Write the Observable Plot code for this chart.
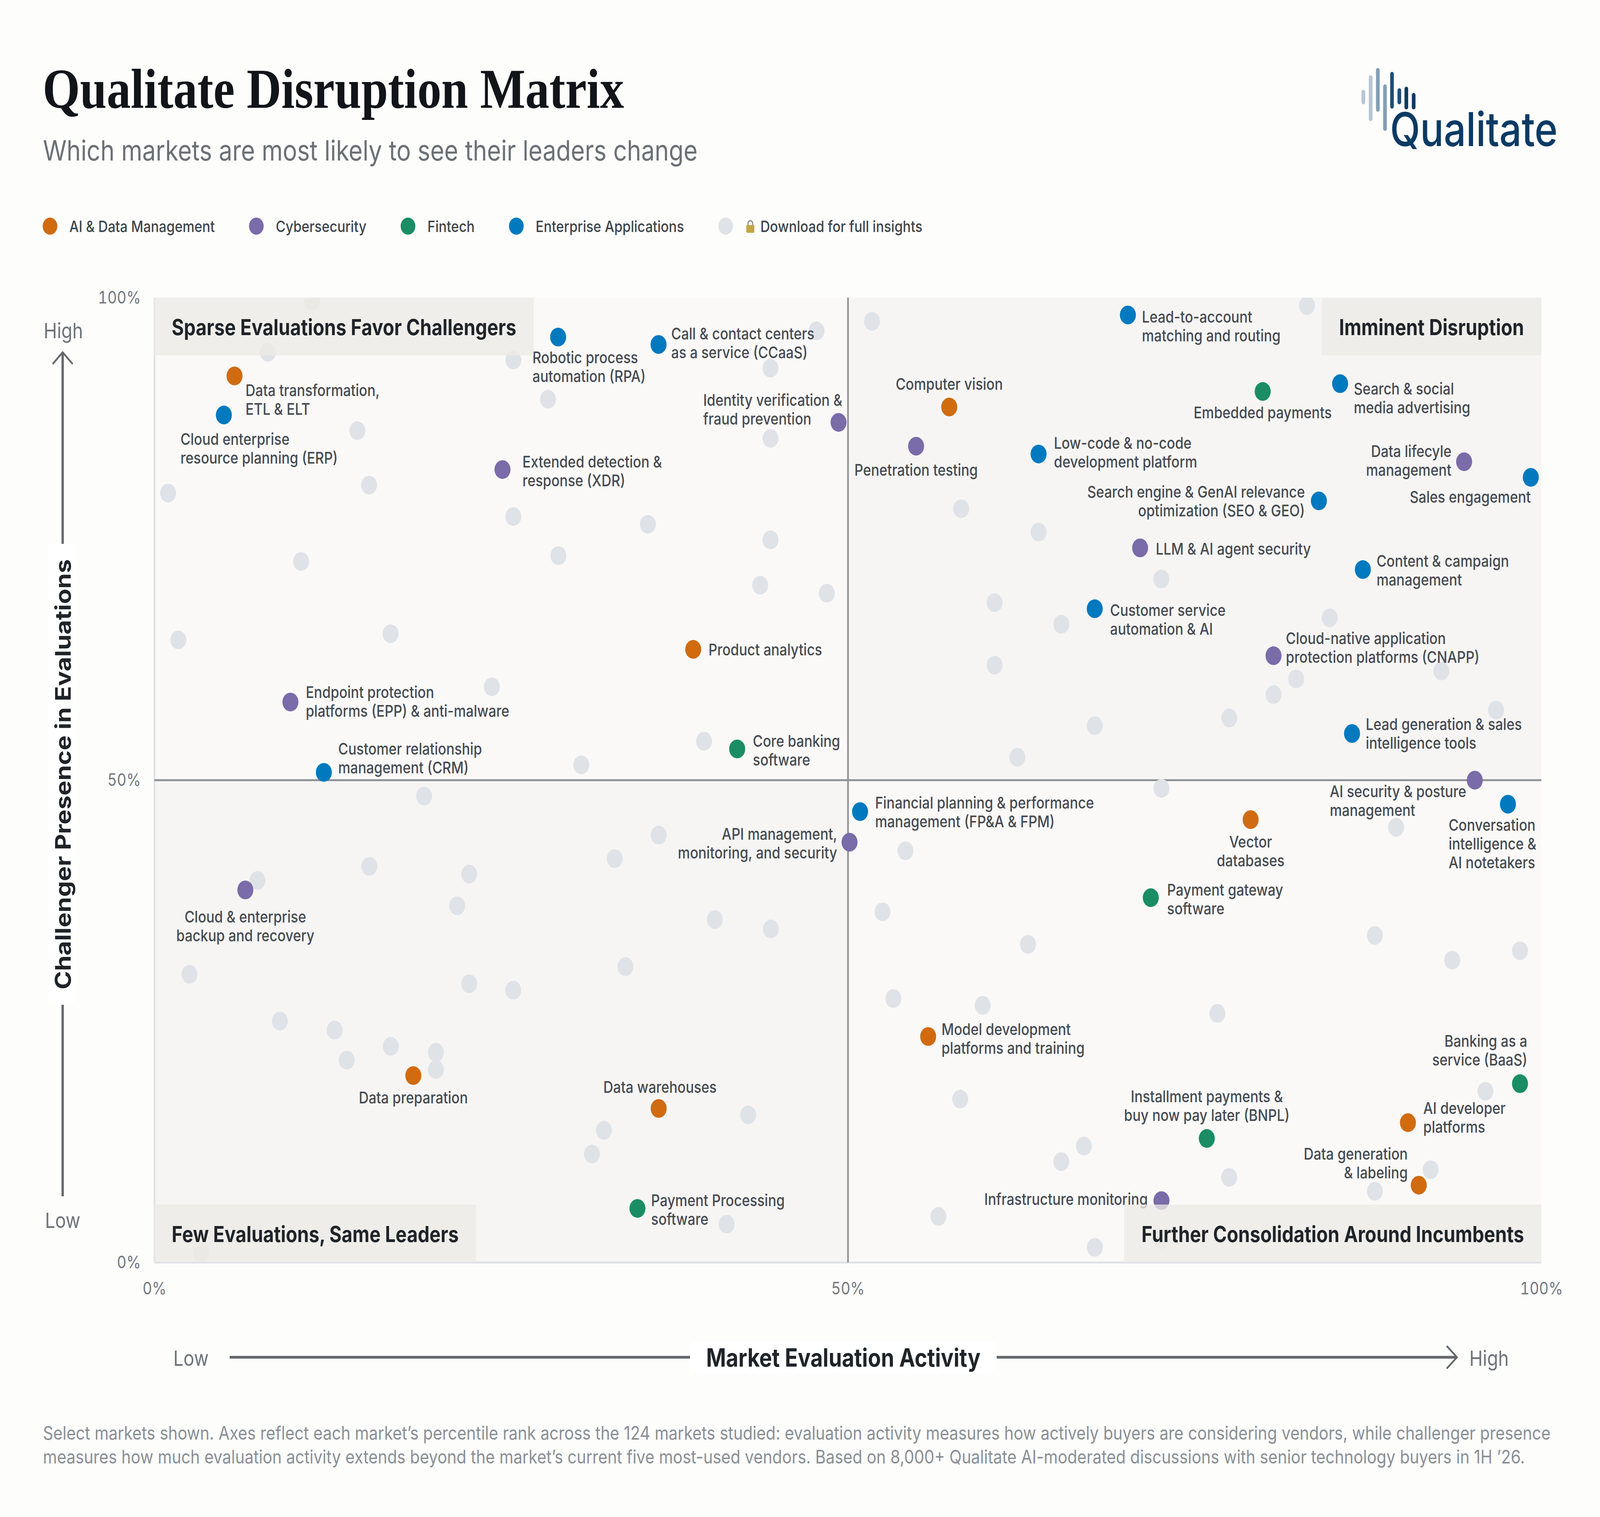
<!DOCTYPE html>
<html>
<head>
<meta charset="utf-8">
<script src="https://cdn.jsdelivr.net/npm/d3@7"></script>
<script src="https://cdn.jsdelivr.net/npm/@observablehq/plot@0.6"></script>
<style>
  html, body { margin: 0; padding: 0; background: #FDFDFC; overflow: hidden; }
  body { font-family: Inter, "Noto Sans", sans-serif; }
  #wrap { position: relative; overflow: hidden; width: 4800px; height: 3884px; }
  #page { position: absolute; left: 0; top: 0; width: 4800px; height: 3884px; transform-origin: 0 0; background: #FDFDFC; }
  #title { position: absolute; left: 128px; top: 156px; font-family: "Liberation Serif", serif; font-weight: 700; font-size: 144px; line-height: 144px; color: #111418; white-space: nowrap; }
  #subtitle { position: absolute; left: 129px; top: 349px; font-size: 72px; line-height: 72px; color: #6B7075; white-space: nowrap; }
  #logo { position: absolute; left: 4050px; top: 150px; }
  #legend { position: absolute; left: 128px; top: 549px; height: 60px; display: flex; align-items: center; gap: 103px; font-size: 40px; font-weight: 500; color: #3F454B; white-space: nowrap; }
  .item { display: flex; align-items: center; }
  .sw { width: 44px; height: 44px; border-radius: 50%; margin-right: 36px; }
  #chart { position: absolute; left: 0; top: 680px; }
  #footer { position: absolute; left: 129px; top: 3638px; font-size: 48px; line-height: 61px; color: #8A8F94; white-space: nowrap; }
</style>
</head>
<body>
<div id="wrap">
<div id="page">
<div id="title">Qualitate Disruption Matrix</div>
<div id="subtitle">Which markets are most likely to see their leaders change</div>
<svg id="logo" width="700" height="300"></svg>
<div id="legend"></div>
<div id="chart"></div>
<div id="footer">Select markets shown. Axes reflect each market’s percentile rank across the 124 markets studied: evaluation activity measures how actively buyers are considering vendors, while challenger presence<br>measures how much evaluation activity extends beyond the market’s current five most-used vendors. Based on 8,000+ Qualitate AI-moderated discussions with senior technology buyers in 1H ’26.</div>
</div>
</div>
<script>
// fit the 4800x3884 design to the browser window (the window may be narrower than asked)
(function () {
  const vw = window.innerWidth || 4800, vh = window.innerHeight || 3884;
  const sx = vw / 4800, sy = vh / 3884;
  document.getElementById("page").style.transform = `scale(${sx}, ${sy})`;
  const w = document.getElementById("wrap");
  w.style.width = (4800 * sx) + "px";
  w.style.height = (3884 * sy) + "px";
})();

// ---------------- DATA ----------------
const categories = ["AI & Data Management", "Cybersecurity", "Fintech", "Enterprise Applications"];
const lockedLabel = "Download for full insights";
const axisTicks = [0, 50, 100];

const marketNames = [
  "Data transformation,\nETL & ELT",
  "Product analytics",
  "Computer vision",
  "Vector\ndatabases",
  "Model development\nplatforms and training",
  "Data preparation",
  "Data warehouses",
  "AI developer\nplatforms",
  "Data generation\n& labeling",
  "Identity verification &\nfraud prevention",
  "Extended detection &\nresponse (XDR)",
  "Penetration testing",
  "LLM & AI agent security",
  "Cloud-native application\nprotection platforms (CNAPP)",
  "Data lifecyle\nmanagement",
  "Endpoint protection\nplatforms (EPP) & anti-malware",
  "Cloud & enterprise\nbackup and recovery",
  "API management,\nmonitoring, and security",
  "AI security & posture\nmanagement",
  "Infrastructure monitoring",
  "Embedded payments",
  "Core banking\nsoftware",
  "Payment gateway\nsoftware",
  "Payment Processing\nsoftware",
  "Installment payments &\nbuy now pay later (BNPL)",
  "Banking as a\nservice (BaaS)",
  "Robotic process\nautomation (RPA)",
  "Call & contact centers\nas a service (CCaaS)",
  "Cloud enterprise\nresource planning (ERP)",
  "Customer relationship\nmanagement (CRM)",
  "Lead-to-account\nmatching and routing",
  "Search & social\nmedia advertising",
  "Low-code & no-code\ndevelopment platform",
  "Search engine & GenAI relevance\noptimization (SEO & GEO)",
  "Sales engagement",
  "Content & campaign\nmanagement",
  "Customer service\nautomation & AI",
  "Lead generation & sales\nintelligence tools",
  "Conversation\nintelligence &\nAI notetakers",
  "Financial planning & performance\nmanagement (FP&A & FPM)"
];
const marketCategory = [
  "AI & Data Management","AI & Data Management","AI & Data Management","AI & Data Management","AI & Data Management",
  "AI & Data Management","AI & Data Management","AI & Data Management","AI & Data Management",
  "Cybersecurity","Cybersecurity","Cybersecurity","Cybersecurity","Cybersecurity","Cybersecurity",
  "Cybersecurity","Cybersecurity","Cybersecurity","Cybersecurity","Cybersecurity",
  "Fintech","Fintech","Fintech","Fintech","Fintech","Fintech",
  "Enterprise Applications","Enterprise Applications","Enterprise Applications","Enterprise Applications",
  "Enterprise Applications","Enterprise Applications","Enterprise Applications","Enterprise Applications",
  "Enterprise Applications","Enterprise Applications","Enterprise Applications","Enterprise Applications",
  "Enterprise Applications","Enterprise Applications"
];
const evaluationActivity = [
  5.77, 38.84, 57.30, 79.03, 55.78, 18.66, 36.35, 90.37, 91.15,
  49.32, 25.09, 54.91, 71.06, 80.68, 94.42, 9.80, 6.55, 50.11, 95.19, 72.60,
  79.90, 42.01, 71.83, 34.82, 75.87, 98.45,
  29.10, 36.34, 5.00, 12.21, 70.18, 85.48, 63.74, 83.95, 99.23, 87.12, 67.79, 86.34, 97.58, 50.87
];
const challengerPresence = [
  91.9, 63.56, 88.68, 45.91, 23.43, 19.38, 15.97, 14.50, 8.02,
  87.09, 82.20, 84.62, 74.08, 62.90, 83.01, 58.10, 38.62, 43.57, 50.0, 6.42,
  90.29, 53.24, 37.82, 5.61, 12.86, 18.54,
  95.93, 95.16, 87.85, 50.81, 98.22, 91.10, 83.81, 78.95, 81.39, 71.83, 67.77, 54.84, 47.51, 46.74
];
// locked (unnamed) markets
const lockedActivity = [
  11.37, 8.17, 25.87, 28.37, 44.41, 47.73, 14.63, 44.41, 15.47, 0.98, 25.87, 35.57, 44.41, 29.12, 10.57, 43.67, 48.47, 1.72, 17.02, 24.32, 39.62, 30.77,
  51.73, 58.16, 63.74, 72.59, 60.57, 65.38, 60.57, 67.79, 62.21, 77.49, 72.60,
  83.09, 84.73, 92.78, 82.31, 80.68, 96.72,
  89.52, 87.99, 93.56, 98.45, 95.96, 92.01, 87.99,
  62.98, 59.71, 76.63, 67.01, 65.38, 77.48, 67.80, 72.60,
  36.35, 33.18, 54.14, 40.40, 44.44, 33.95, 52.49, 53.27, 58.09, 42.80, 32.40, 31.54, 41.25, 56.52,
  19.44, 15.49, 7.42, 22.69, 21.82, 2.52, 22.69, 25.86, 9.04, 12.99, 13.86, 17.04, 20.29, 20.29, 3.36
];
const lockedPresence = [
  99.66, 94.35, 93.55, 89.49, 92.71, 96.57, 86.23, 85.43, 80.59, 79.76, 77.33, 76.53, 74.92, 73.27, 72.67, 70.21, 69.38, 64.54, 65.18, 59.68, 54.04, 51.59,
  97.57, 78.14, 75.72, 70.85, 68.40, 66.15, 61.92, 55.65, 52.39, 56.45, 49.15,
  99.19, 66.83, 61.32, 60.49, 58.87, 57.26,
  45.11, 33.91, 31.34, 32.31, 17.75, 9.62, 7.39,
  32.98, 26.67, 25.83, 12.07, 10.46, 8.83, 1.58, 2.40,
  44.30, 41.86, 42.67, 35.55, 34.58, 30.68, 36.36, 27.37, 16.94, 15.30, 13.70, 11.26, 3.98, 4.78,
  48.35, 41.06, 39.60, 40.26, 36.98, 29.88, 28.90, 28.23, 25.03, 24.09, 20.98, 22.41, 21.79, 20.01, 0.94
];
// quadrants (split at the 50th percentile)
const quadrantNames = ["Sparse Evaluations Favor Challengers", "Imminent Disruption", "Few Evaluations, Same Leaders", "Further Consolidation Around Incumbents"];
const quadrantX = [[0, 50], [50, 100], [0, 50], [50, 100]];
const quadrantY = [[50, 100], [50, 100], [0, 50], [0, 50]];

// ---------------- STYLE ----------------
const categoryColors = ["#D06B10", "#7A6BA9", "#1A8D65", "#0079BF"];
const lockedColor = "#DFE3E8";
const quadrantShades = ["#FAF9F8", "#F6F5F4", "#F6F5F4", "#FAF9F8"];
const quadrantCorner = ["tl", "tr", "bl", "br"];
// label placement per market (text anchor, dx, dy in px)
const labelPlacement = [
  ["start", 33, 60], ["start", 46, 0], ["middle", 0, -59], ["middle", 0, 80], ["start", 40, 5],
  ["middle", 0, 56], ["middle", 4, -55], ["start", 46, -14], ["end", -33, -57],
  ["start", -406, -34], ["start", 60, 3], ["middle", 0, 60], ["start", 47, 2], ["start", 37, -21],
  ["end", -38, -4], ["start", 46, -2], ["middle", 0, 92], ["end", -37, 2], ["start", -435, 52], ["end", -41, -4],
  ["middle", 0, 53], ["start", 47, 3], ["start", 49, 3], ["start", 41, 3], ["middle", 0, -84], ["end", 22, -86],
  ["start", -77, 76], ["start", 38, -4], ["start", -130, 85], ["start", 43, -37], ["start", 42, 28],
  ["start", 41, 36], ["start", 46, -5], ["end", -42, 0], ["end", 0, 49], ["start", 41, 1],
  ["start", 46, 27], ["start", 41, 0], ["start", -178, 101], ["start", 45, 1]
];

// ---------------- TABLES ----------------
const markets = marketNames.map((name, i) => ({name, category: marketCategory[i], x: evaluationActivity[i], y: challengerPresence[i]}));
const locked = lockedActivity.map((x, i) => ({x, y: lockedPresence[i]}));
const quadrants = quadrantNames.map((name, i) => ({name, x1: quadrantX[i][0], x2: quadrantX[i][1], y1: quadrantY[i][0], y2: quadrantY[i][1], shade: quadrantShades[i]}));

// ---------------- LOGO ----------------
(function () {
  const s = d3.select("#logo");
  const bars = [[40, 80, 117, "#B5C5D3"], [62, 43, 160, "#B5C5D3"], [83.5, 24, 136, "#849EB4"], [105, 66, 185, "#849EB4"],
                [126, 34, 128, "#1F4F78"], [148, 76, 117, "#1F4F78"], [169, 72, 130, "#0B3A64"], [191, 88, 130, "#0B3A64"]];
  for (const [x, y1, y2, c] of bars) {
    s.append("rect").attr("x", x - 5.5).attr("y", y1).attr("width", 11).attr("height", y2 - y1).attr("rx", 5.5).attr("fill", c);
  }
  s.append("text").attr("x", 120).attr("y", 224).attr("font-family", "Inter").attr("font-size", 120).attr("font-weight", 500)
    .attr("fill", "#0B3A64").attr("textLength", 503).attr("lengthAdjust", "spacingAndGlyphs").text("Qualitate");
})();

// ---------------- LEGEND ----------------
(function () {
  const lg = d3.select("#legend");
  categories.forEach((c, i) => {
    const it = lg.append("div").attr("class", "item");
    it.append("div").attr("class", "sw").style("background", categoryColors[i]);
    it.append("span").text(c);
  });
  const it = lg.append("div").attr("class", "item");
  it.append("div").attr("class", "sw").style("background", lockedColor);
  const lock = it.append("svg").attr("width", 32).attr("height", 36).style("margin-right", "14px");
  lock.append("path").attr("d", "M9 17 V11 a7 7 0 0 1 14 0 V17").attr("fill", "none").attr("stroke", "#8E8E8E").attr("stroke-width", 3.5);
  lock.append("rect").attr("x", 4).attr("y", 15).attr("width", 24).attr("height", 20).attr("rx", 3).attr("fill", "#C2A743");
  it.append("span").text(lockedLabel);
})();

// ---------------- CHART ----------------
const labelMarks = markets.map((d, i) => Plot.text([d], {
  x: "x", y: "y", text: "name",
  textAnchor: labelPlacement[i][0], dx: labelPlacement[i][1], dy: labelPlacement[i][2],
  lineAnchor: "middle", fontSize: 41, fontWeight: 500, fill: "#464B51", lineHeight: 1.17
}));

const plot = Plot.plot({
  width: 4800,
  height: 2900,
  marginTop: 82,
  marginBottom: 348,
  marginLeft: 463,
  marginRight: 176,
  x: {domain: [0, 100]},
  y: {domain: [0, 100]},
  color: {domain: categories, range: categoryColors},
  style: {fontFamily: "Inter, sans-serif", fontSize: "41px", background: "transparent", overflow: "visible"},
  marks: [
    Plot.rect(quadrants, {x1: "x1", x2: "x2", y1: "y1", y2: "y2", fill: "shade"}),
    Plot.ruleX([0], {stroke: "#DDE1E6", strokeWidth: 5}),
    Plot.ruleY([0], {stroke: "#DDE1E6", strokeWidth: 5}),
    Plot.ruleX([50], {stroke: "#909397", strokeWidth: 5}),
    Plot.ruleY([50], {stroke: "#909397", strokeWidth: 5}),
    Plot.axisX({ticks: axisTicks, tickFormat: d => d + "%", tickSize: 0, tickPadding: 50, fontSize: 44, fill: "#73787D", label: null}),
    Plot.axisY({ticks: axisTicks, tickFormat: d => d + "%", tickSize: 0, tickPadding: 41, fontSize: 44, fill: "#73787D", label: null}),
    Plot.dot(locked, {x: "x", y: "y", r: 24, fill: lockedColor, clip: true}),
    Plot.dot(markets, {x: "x", y: "y", r: 24, fill: "category"}),
    ...labelMarks
  ]
});
document.getElementById("chart").appendChild(plot);

// ---------------- DECORATIONS ----------------
(function () {
  const svg = d3.select(plot);
  const X = plot.scale("x"), Y = plot.scale("y");
  const left = X.apply(0), right = X.apply(100), top = Y.apply(100), bottom = Y.apply(0);
  // quadrant title boxes
  const g = svg.append("g");
  quadrants.forEach((q, i) => {
    const corner = quadrantCorner[i];
    const bx = g.append("g");
    const rect = bx.append("rect").attr("fill", "#EDEBE6").attr("fill-opacity", 0.78);
    const t = bx.append("text").attr("font-family", "Inter").attr("font-size", 56).attr("font-weight", 700)
      .attr("text-anchor", "start").attr("fill", "#1F2429").attr("dominant-baseline", "central").text(q.name);
    const w = t.node().getBBox().width + 104, h = 148;
    const rx = corner.endsWith("l") ? left : right - w;
    const ry = corner.startsWith("t") ? top : bottom - h;
    rect.attr("x", rx).attr("y", ry).attr("width", w).attr("height", h);
    t.attr("x", rx + 52).attr("y", ry + h / 2 + 2);
  });
  const axisColor = "#63676B";
  const dec = svg.append("g");
  // x axis title with arrow
  const ya = 2795, xl = 689, xr = 4371, xm = (xl + xr) / 2;
  dec.append("line").attr("x1", xl).attr("x2", xr - 2).attr("y1", ya).attr("y2", ya).attr("stroke", axisColor).attr("stroke-width", 7);
  dec.append("path").attr("d", `M${xr - 31},${ya - 29} L${xr},${ya} L${xr - 31},${ya + 29}`).attr("fill", "none").attr("stroke", axisColor).attr("stroke-width", 5).attr("stroke-linejoin", "round");
  dec.append("rect").attr("x", xm - 460).attr("y", ya - 42).attr("width", 920).attr("height", 84).attr("fill", "#FFFFFF");
  dec.append("text").attr("x", xm).attr("y", ya).attr("text-anchor", "middle").attr("dominant-baseline", "central")
    .attr("font-family", "Inter").attr("font-size", 64).attr("font-weight", 700).attr("fill", "#1F2429").text("Market Evaluation Activity");
  dec.append("text").attr("x", 573).attr("y", ya + 2).attr("text-anchor", "middle").attr("dominant-baseline", "central")
    .attr("font-family", "Inter").attr("font-size", 54).attr("fill", "#6E7378").text("Low");
  dec.append("text").attr("x", 4408).attr("y", ya + 2).attr("text-anchor", "start").attr("dominant-baseline", "central")
    .attr("font-family", "Inter").attr("font-size", 54).attr("fill", "#6E7378").text("High");
  // y axis title with arrow
  const xa = 188, yt = 222, yb = 2383, ym = (yt + yb) / 2;
  dec.append("line").attr("x1", xa).attr("x2", xa).attr("y1", yt + 2).attr("y2", yb).attr("stroke", axisColor).attr("stroke-width", 7);
  dec.append("path").attr("d", `M${xa - 30},${yt + 30} L${xa},${yt} L${xa + 30},${yt + 30}`).attr("fill", "none").attr("stroke", axisColor).attr("stroke-width", 5).attr("stroke-linejoin", "round");
  dec.append("rect").attr("x", xa - 42).attr("y", ym - 590).attr("width", 84).attr("height", 1180).attr("fill", "#FFFFFF");
  dec.append("text").attr("transform", `translate(${xa},${ym}) rotate(-90)`).attr("text-anchor", "middle").attr("dominant-baseline", "central")
    .attr("font-family", "Inter").attr("font-size", 64).attr("font-weight", 700).attr("fill", "#1F2429").text("Challenger Presence in Evaluations");
  dec.append("text").attr("x", 190).attr("y", 166).attr("text-anchor", "middle").attr("dominant-baseline", "central")
    .attr("font-family", "Inter").attr("font-size", 54).attr("fill", "#6E7378").text("High");
  dec.append("text").attr("x", 188).attr("y", 2444).attr("text-anchor", "middle").attr("dominant-baseline", "central")
    .attr("font-family", "Inter").attr("font-size", 54).attr("fill", "#6E7378").text("Low");
})();
</script>
</body>
</html>
